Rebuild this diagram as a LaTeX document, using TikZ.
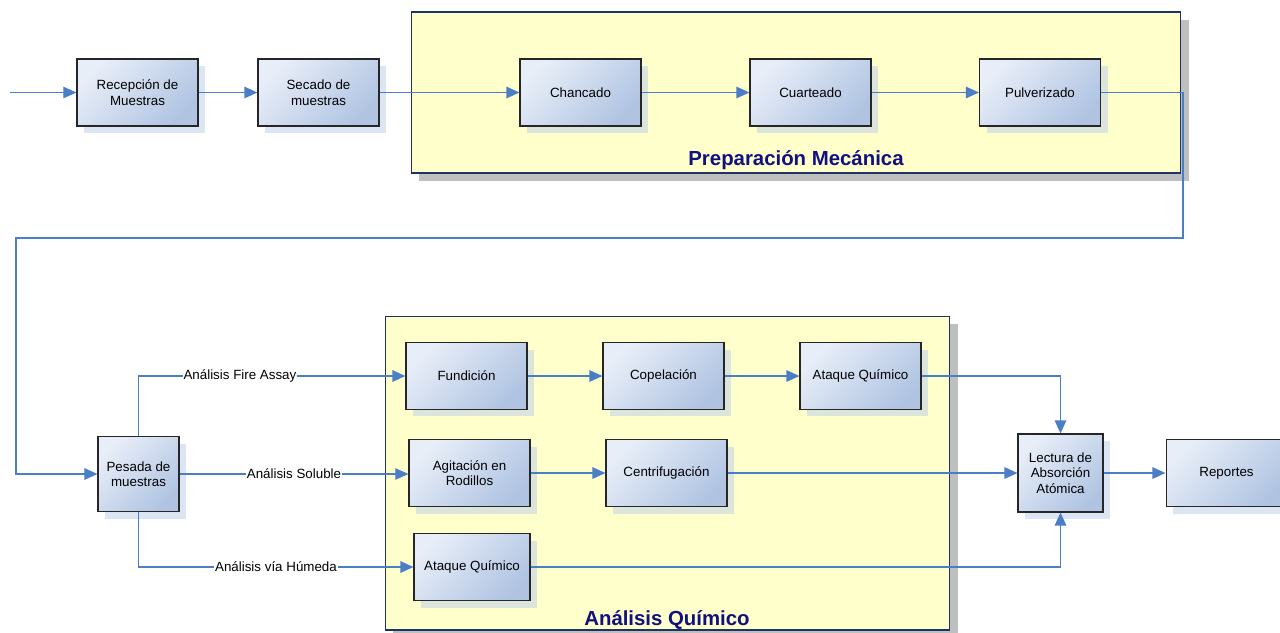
\documentclass[tikz,border=0pt]{standalone}
\usepackage{fontspec}
\setmainfont{Liberation Sans}
\usetikzlibrary{arrows.meta,shadows}
\definecolor{flowblue}{RGB}{74,126,199}
\definecolor{boxlight}{RGB}{232,238,248}
\definecolor{boxdark}{RGB}{176,196,226}
\definecolor{shadowblue}{RGB}{184,204,234}
\definecolor{framefill}{RGB}{255,255,204}
\definecolor{frameline}{RGB}{30,50,100}
\definecolor{titlenavy}{RGB}{16,16,128}
\begin{document}
\begin{tikzpicture}[x=0.02cm, y=-0.02cm,
    proc-node/.style={ rectangle, draw=black!85, line width=0.6pt,
        top color=boxlight, bottom color=boxdark, shading angle=45,
        minimum width=2.42cm, minimum height=1.34cm, align=center,
        font=\fontsize{7.6}{8.8}\selectfont,
        drop shadow={shadow xshift=0.14cm, shadow yshift=-0.14cm, fill=shadowblue, opacity=0.5} },
    group-frame/.style={ rectangle, draw=frameline, line width=0.6pt, fill=framefill,
        drop shadow={shadow xshift=0.16cm, shadow yshift=-0.16cm, fill=black!25, opacity=1} },
    frame-title/.style={ font=\fontsize{11.6}{13}\selectfont\bfseries, text=titlenavy },
    flow/.style={ draw=flowblue, line width=1.1pt, -{Triangle[length=7.5pt,width=6.5pt]} },
    thin-flow/.style={ flow, line width=0.6pt },
    path-label/.style={ fill=white, inner sep=0.5pt, font=\fontsize{7.6}{8.8}\selectfont }
  ]
  \useasboundingbox (0,0) rectangle (1280,632);

  % Frames
  \node[group-frame, minimum width=15.4cm, minimum height=3.22cm] (prepframe) at (796,92.5) {};
  \node[frame-title] (preptitle) at (796,160) {Preparación Mecánica};
  \node[group-frame, minimum width=11.3cm, minimum height=6.28cm] (anaframe) at (667.5,473) {};
  \node[frame-title] (anatitle) at (667,620) {Análisis Químico};

  % Upper line
  \coordinate (input) at (10,92.5);
  \node[proc-node] (recep) at (137.5,92.5) {Recepción de\\Muestras};
  \node[proc-node] (secado) at (318.5,92.5) {Secado de\\muestras};
  \node[proc-node] (chancado) at (580.5,92.5) {Chancado};
  \node[proc-node] (cuarteado) at (810.5,92.5) {Cuarteado};
  \node[proc-node] (pulverizado) at (1040,92.5) {Pulverizado};

  % Lower line
  \node[proc-node, minimum width=1.62cm, minimum height=1.5cm] (pesada) at (138.5,474) {Pesada de\\muestras};
  \node[proc-node] (fundicion) at (466.5,376) {Fundición};
  \node[proc-node] (copelacion) at (663.5,376) {Copelación};
  \node[proc-node] (ataqueA) at (860.5,376) {Ataque Químico};
  \node[proc-node] (agitacion) at (469.5,473) {Agitación en\\Rodillos};
  \node[proc-node] (centrif) at (666.5,473) {Centrifugación};
  \node[proc-node, minimum width=2.32cm] (ataqueB) at (472,567) {Ataque Químico};
  \node[proc-node, minimum width=1.7cm, minimum height=1.56cm] (lectura) at (1060.5,473) {Lectura de\\Absorción\\Atómica};
  \node[proc-node] (reportes) at (1226.5,473) {Reportes};

  \coordinate (turnA) at (1183,238);
  \coordinate (turnB) at (16,238);

  % Edges
  \draw[thin-flow] (input) -- (recep);
  \draw[flow] (recep) -- (secado);
  \draw[flow] (secado) -- (chancado);
  \draw[flow] (chancado) -- (cuarteado);
  \draw[flow] (cuarteado) -- (pulverizado);
  \draw[flow] (pulverizado.east) -| (turnA) -- (turnB) |- (pesada.west);
  \draw[flow] (pesada.north) |- (fundicion.west) node[path-label, pos=0.69] {Análisis Fire Assay};
  \draw[thin-flow] (pesada.east) -- (pesada.east -| agitacion.west) node[path-label, pos=0.5] {Análisis Soluble};
  \draw[flow] (pesada.south) |- (ataqueB.west) node[path-label, pos=0.75] {Análisis vía Húmeda};
  \draw[flow] (fundicion) -- (copelacion);
  \draw[flow] (copelacion) -- (ataqueA);
  \draw[flow] (agitacion) -- (centrif);
  \draw[flow] (ataqueA.east) -| (lectura.north);
  \draw[flow] (centrif.east) -- (lectura.west);
  \draw[flow] (ataqueB.east) -| (lectura.south);
  \draw[flow] (lectura) -- (reportes);
\end{tikzpicture}
\end{document}
